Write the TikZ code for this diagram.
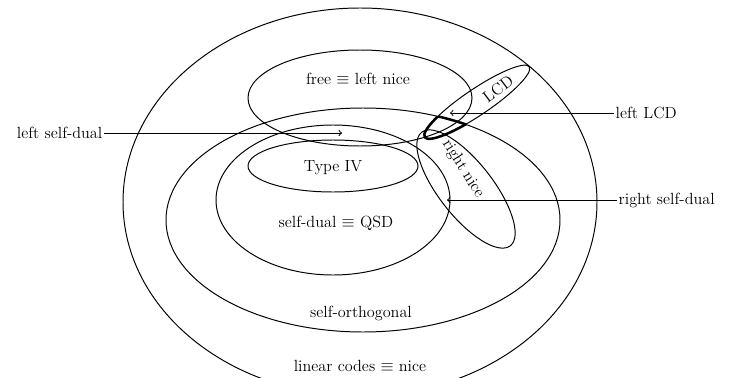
\documentclass[tikz,border=0pt]{standalone}
\usetikzlibrary{arrows}

\begin{document}
\begin{tikzpicture}
[x=0.025cm,y=0.025cm,%
  setDecorate/.style={line width=0.7pt},%
  lensDecorate/.style={line width=1.8pt},%
  arrowDecorate/.style={->,line width=0.7pt},%
  textDecorate/.style={inner sep=1pt,font=\fontsize{11.5}{13}\selectfont}]
\useasboundingbox (0,0) rectangle (730,377);
\clip (0,0) rectangle (730,377);
%% sets as ellipses
\foreach \cx/\cy/\rx/\ry/\ang in {
  360/175/237/194/0, 363/157/197/112/0, 333/177/117/75/0, 333/211/85/26/0,
  360/279/112/48/0, 477/275/63/13/34, 466/188/72/27/-52}
{
  \draw[setDecorate,rotate around={\ang:(\cx,\cy)}] (\cx,\cy) ellipse [x radius=\rx, y radius=\ry];
}
%% left LCD lens
\begin{scope}
  \clip (363,157) ellipse [x radius=197, y radius=112];
  \draw[lensDecorate,rotate around={34:(477,275)}] (477,275) ellipse [x radius=63, y radius=13];
\end{scope}
\begin{scope}
  \clip[rotate around={34:(477,275)}] (477,275) ellipse [x radius=63, y radius=13];
  \draw[lensDecorate] (363,157) ellipse [x radius=197, y radius=112];
\end{scope}
%% labels inside
\node (free) at (358,298) [textDecorate] {free $\equiv$ left nice};
\node (typeiv) at (333,209) [textDecorate] {Type IV};
\node (qsd) at (336,154) [textDecorate] {self-dual $\equiv$ QSD};
\node (selforth) at (361,64) [textDecorate] {self-orthogonal};
\node (linear) at (360,11) [textDecorate] {linear codes $\equiv$ nice};
\node (lcd) at (498,288) [textDecorate,rotate=37] {LCD};
\node (rightnice) at (463,208) [textDecorate,rotate=-58] {right nice};
%% labels outside
\node (leftsd) at (104,244) [textDecorate,anchor=east] {left self-dual};
\node (leftlcd) at (614,264) [textDecorate,anchor=west] {left LCD};
\node (rightsd) at (617,177) [textDecorate,anchor=west] {right self-dual};
\coordinate (leftsdtip) at (342,244);
\coordinate (leftlcdtip) at (450,264);
\coordinate (rightsdtip) at (447,177);
%% arrows
\path
\foreach \startnode/\endnode in {
  leftsd/leftsdtip, leftlcd/leftlcdtip, rightsd/rightsdtip}
{
  (\startnode) edge[arrowDecorate] (\endnode)
};
\end{tikzpicture}
\end{document}
